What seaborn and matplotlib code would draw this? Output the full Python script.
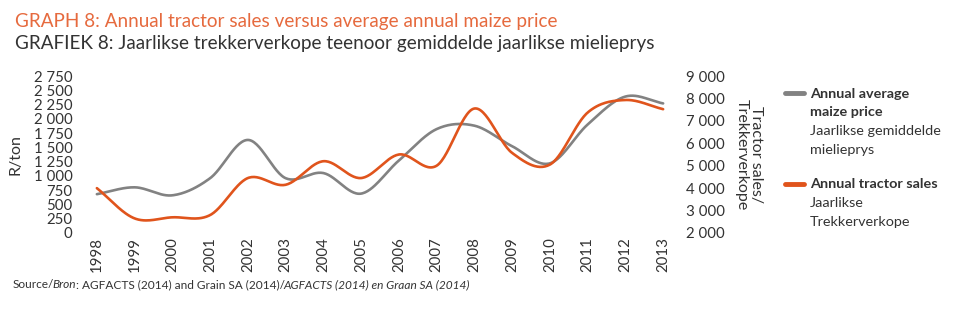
import numpy as np
import pandas as pd
import matplotlib
matplotlib.use("Agg")
import matplotlib.pyplot as plt
from matplotlib.lines import Line2D
from matplotlib.ticker import FuncFormatter, FixedLocator
import seaborn as sns

years = list(range(1998, 2014))
maize_price = [680, 800, 660, 960, 1630, 960, 1050, 690, 1270, 1820, 1880, 1520, 1220, 1900, 2390, 2270]
tractor_sales = [4000, 2650, 2700, 2800, 4450, 4150, 5200, 4450, 5500, 5000, 7550, 5570, 5050, 7370, 7930, 7520]

left_ticks = [0, 250, 500, 750, 1000, 1250, 1500, 1750, 2000, 2250, 2500, 2750]
right_ticks = [2000, 3000, 4000, 5000, 6000, 7000, 8000, 9000]

GRAY = "#828282"
ORANGE = "#E0541C"
TITLE_ORANGE = "#E66A3E"
TEXT = "#333333"

sns.set_style("white")
plt.rcParams["font.family"] = ["Lato", "DejaVu Sans"]


def smooth(x, y, n=30):
    """Catmull-Rom style smoothing (like a spreadsheet 'smoothed line') for drawing."""
    x = np.asarray(x, float)
    y = np.asarray(y, float)
    m = np.zeros_like(y)
    m[1:-1] = (y[2:] - y[:-2]) / (x[2:] - x[:-2])
    m[0] = (y[1] - y[0]) / (x[1] - x[0])
    m[-1] = (y[-1] - y[-2]) / (x[-1] - x[-2])
    xs, ys = [], []
    for i in range(len(x) - 1):
        h = x[i + 1] - x[i]
        t = np.linspace(0, 1, n, endpoint=False)
        h00 = 2 * t**3 - 3 * t**2 + 1
        h10 = t**3 - 2 * t**2 + t
        h01 = -2 * t**3 + 3 * t**2
        h11 = t**3 - t**2
        xs.append(x[i] + t * h)
        ys.append(h00 * y[i] + h10 * h * m[i] + h01 * y[i + 1] + h11 * h * m[i + 1])
    xs.append([x[-1]])
    ys.append([y[-1]])
    return np.concatenate(xs), np.concatenate(ys)


fig = plt.figure(figsize=(9.6, 3.25), dpi=100)
ax = fig.add_axes([78 / 960, 1 - 233 / 325, (682 - 78) / 960, (233 - 76) / 325])
ax2 = ax.twinx()

xp, yp = smooth(years, maize_price)
xt, yt = smooth(years, tractor_sales)
sns.lineplot(x=xp, y=yp, ax=ax, color=GRAY, linewidth=1.9, sort=False, zorder=2)
sns.lineplot(x=xt, y=yt, ax=ax2, color=ORANGE, linewidth=1.9, sort=False, zorder=3)

ax.set_xlim(1997.5, 2013.5)
ax.set_ylim(0, 2750)
ax2.set_ylim(2000, 9000)

fmt = FuncFormatter(lambda v, p: f"{int(v):,}".replace(",", " "))
ax.yaxis.set_major_locator(FixedLocator(left_ticks))
ax.yaxis.set_major_formatter(fmt)
ax2.yaxis.set_major_locator(FixedLocator(right_ticks))
ax2.yaxis.set_major_formatter(fmt)
ax.set_xticks(years)
ax.set_xticklabels([str(y) for y in years], rotation=90)

for a in (ax, ax2):
    for s in a.spines.values():
        s.set_visible(False)
    a.tick_params(length=0, labelsize=10.8, colors=TEXT)
    a.grid(False)
ax.tick_params(axis="y", pad=4)
ax2.tick_params(axis="y", pad=3)
ax.tick_params(axis="x", pad=3)

ax.set_xlabel("")
ax.set_ylabel("R/ton", fontsize=11.5, color=TEXT, labelpad=8)
ax2.set_ylabel("Tractor sales/\nTrekkerverkope", fontsize=11.5, color=TEXT,
               rotation=-90, labelpad=27, linespacing=0.95)

fig.text(15 / 960, 1 - 21 / 325, "GRAPH 8: Annual tractor sales versus average annual maize price",
         fontsize=13.6, color=TITLE_ORANGE, va="center")
fig.text(15 / 960, 1 - 44 / 325, "GRAFIEK 8: Jaarlikse trekkerverkope teenoor gemiddelde jaarlikse mielieprys",
         fontsize=13.6, color=TEXT, va="center")

# legend
def fy(p):
    return 1 - p / 325

fig.add_artist(Line2D([785 / 960, 804 / 960], [fy(93), fy(93)], color=GRAY, lw=3.5,
                      transform=fig.transFigure))
fig.add_artist(Line2D([785 / 960, 804 / 960], [fy(184), fy(184)], color=ORANGE, lw=3.5,
                      transform=fig.transFigure))
x0 = 810 / 960
fs = 10.4
fig.text(x0, fy(94), "Annual average", fontsize=fs, fontweight="bold", color=TEXT, va="center")
fig.text(x0, fy(112), "maize price", fontsize=fs, fontweight="bold", color=TEXT, va="center")
fig.text(x0, fy(131), "Jaarlikse gemiddelde", fontsize=fs, color=TEXT, va="center")
fig.text(x0, fy(150), "mielieprys", fontsize=fs, color=TEXT, va="center")
fig.text(x0, fy(184), "Annual tractor sales", fontsize=fs, fontweight="bold", color=TEXT, va="center")
fig.text(x0, fy(203), "Jaarlikse", fontsize=fs, color=TEXT, va="center")
fig.text(x0, fy(222), "Trekkerverkope", fontsize=fs, color=TEXT, va="center")

# source
sy = fy(285)
sfs = 8.6
t1 = fig.text(13 / 960, sy, "Source/", fontsize=sfs, color=TEXT, va="center")
fig.canvas.draw()
r = fig.canvas.get_renderer()
def place_after(prev, s, style, shift=0.0):
    bb = prev.get_window_extent(renderer=r)
    return fig.text((bb.x1 + shift) / 960, sy, s, fontsize=sfs, color=TEXT, va="center", style=style)
t2 = place_after(t1, "Bron", "italic", -1.5)
t3 = place_after(t2, ": AGFACTS (2014) and Grain SA (2014)/", "normal", -0.5)
t4 = place_after(t3, "AGFACTS (2014) en Graan SA (2014)", "italic", -1.5)

fig.savefig("out.png", dpi=100, facecolor="white")
